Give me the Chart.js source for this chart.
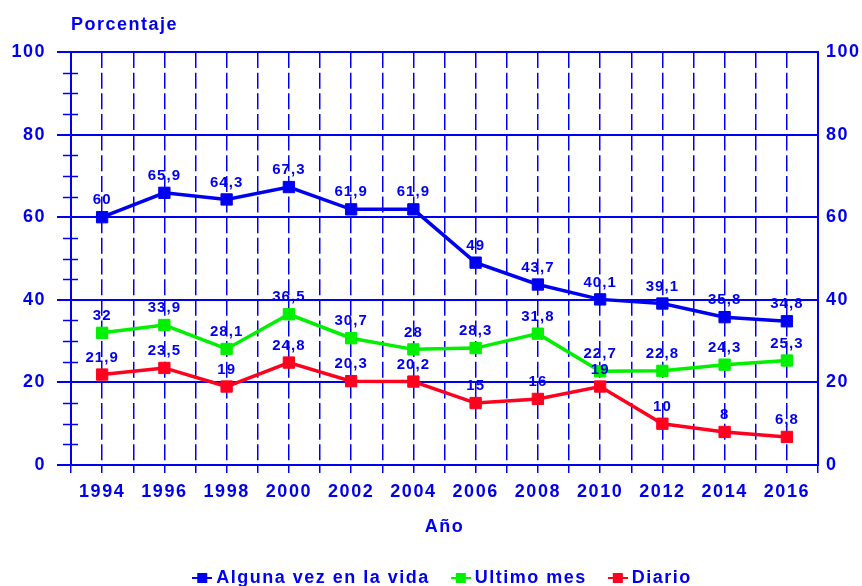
<!DOCTYPE html>
<html>
<head>
<meta charset="utf-8">
<script src="https://cdn.jsdelivr.net/npm/chart.js@4/dist/chart.umd.min.js"></script>
<style>
  html, body { margin: 0; padding: 0; background: #fff; }
</style>
</head>
<body>
<canvas id="chart" width="862" height="586"></canvas>
<script>
const YEARS = [1994, 1996, 1998, 2000, 2002, 2004, 2006, 2008, 2010, 2012, 2014, 2016];
const ALGUNA_VEZ = [60, 65.9, 64.3, 67.3, 61.9, 61.9, 49, 43.7, 40.1, 39.1, 35.8, 34.8];
const ULTIMO_MES = [32, 33.9, 28.1, 36.5, 30.7, 28, 28.3, 31.8, 22.7, 22.8, 24.3, 25.3];
const DIARIO = [21.9, 23.5, 19, 24.8, 20.3, 20.2, 15, 16, 19, 10, 8, 6.8];
const SERIES_NAMES = ['Alguna vez en la vida', 'Ultimo mes', 'Diario'];
const Y_MIN = 0, Y_MAX = 100, Y_STEP = 20, Y_MINOR_STEP = 5;

const BLUE = 'rgb(0, 0, 240)';
const GREEN = 'rgb(0, 240, 0)';
const RED = 'rgb(255, 0, 30)';
const FONT = 'Liberation Sans, Arial, sans-serif';

// little line+square marker for the legend
function make_marker(color) {
    const c = document.createElement('canvas');
    c.width = 20;
    c.height = 12;
    const g = c.getContext('2d');
    g.fillStyle = color;
    g.fillRect(0, 5, 20, 2);
    g.fillRect(5, 1, 10, 10);
    return c;
}
const MARKERS = [make_marker(BLUE), make_marker(GREEN), make_marker(RED)];

function to_points(values) {
    return values.map((v, i) => ({x: YEARS[i], y: v}));
}

const spacingPlugin = {
    id: 'spacing',
    beforeLayout(chart) { chart.ctx.letterSpacing = '1.5px'; },
    beforeDraw(chart) { chart.ctx.letterSpacing = '1.5px'; }
};

const minorTicksPlugin = {
    id: 'minorTicks',
    afterDraw(chart) {
        const scale = chart.scales.y;
        const ctx = chart.ctx;
        ctx.save();
        ctx.strokeStyle = BLUE;
        ctx.lineWidth = 1.5;
        for (let v = Y_MIN + Y_MINOR_STEP; v < Y_MAX; v += Y_MINOR_STEP) {
            if (v % Y_STEP == 0) continue;
            const y = Math.round(scale.getPixelForValue(v)) + 0.5;
            ctx.beginPath();
            ctx.moveTo(scale.right - 8, y);
            ctx.lineTo(scale.right + 7, y);
            ctx.stroke();
        }
        ctx.restore();
    }
};

const valueLabelsPlugin = {
    id: 'valueLabels',
    afterDatasetsDraw(chart) {
        const ctx = chart.ctx;
        ctx.save();
        ctx.letterSpacing = '1px';
        ctx.font = 'bold 15px ' + FONT;
        ctx.fillStyle = BLUE;
        ctx.textAlign = 'center';
        ctx.textBaseline = 'middle';
        chart.data.datasets.forEach((ds, i) => {
            const meta = chart.getDatasetMeta(i);
            meta.data.forEach((pt, j) => {
                const txt = String(ds.data[j].y).replace('.', ',');
                ctx.fillText(txt, pt.x, pt.y - 17);
            });
        });
        ctx.restore();
    }
};

const series = [ALGUNA_VEZ, ULTIMO_MES, DIARIO];
const colors = [BLUE, GREEN, RED];
const datasets = series.map((vals, i) => ({
    label: SERIES_NAMES[i],
    data: to_points(vals),
    borderColor: colors[i],
    backgroundColor: colors[i],
    borderWidth: 3.5,
    pointStyle: 'rect',
    pointRadius: 8,
    pointBorderWidth: 1,
    tension: 0
}));

new Chart(document.getElementById('chart'), {
    type: 'line',
    data: { datasets: datasets },
    options: {
        responsive: false,
        animation: false,
        layout: { padding: { top: 0, left: 0, right: 0, bottom: -11 } },
        plugins: {
            tooltip: { enabled: false },
            title: {
                display: true,
                text: 'Porcentaje',
                align: 'start',
                fullSize: false,
                color: BLUE,
                font: { family: FONT, size: 18, weight: 'bold' },
                padding: { top: 14, bottom: 16.4 }
            },
            legend: {
                position: 'bottom',
                fullSize: false,
                labels: {
                    usePointStyle: true,
                    pointStyleWidth: 10,
                    padding: 26,
                    color: BLUE,
                    font: { family: FONT, size: 18, weight: 'bold' },
                    generateLabels(chart) {
                        const items = Chart.defaults.plugins.legend.labels.generateLabels(chart);
                        items.forEach((it, i) => { it.pointStyle = MARKERS[i]; });
                        return items;
                    }
                }
            }
        },
        scales: {
            x: {
                type: 'linear',
                min: YEARS[0] - 1,
                max: YEARS[YEARS.length - 1] + 1,
                ticks: {
                    stepSize: 1,
                    autoSkip: false,
                    maxRotation: 0,
                    padding: 8,
                    color: BLUE,
                    font: { family: FONT, size: 18, weight: 'bold' },
                    callback: v => (v % 2 == 0 ? String(v) : '')
                },
                grid: { color: BLUE, lineWidth: 1.5, tickLength: 8 },
                border: { color: BLUE, width: 2, dash: [16, 4.65] },
                title: {
                    display: true,
                    text: 'Año',
                    color: BLUE,
                    font: { family: FONT, size: 18, weight: 'bold' },
                    padding: { top: 0, bottom: 5.2 }
                },
                afterFit: s => { s.height = 78; }
            },
            y: {
                position: 'left',
                min: Y_MIN,
                max: Y_MAX,
                ticks: {
                    stepSize: Y_STEP,
                    padding: 11,
                    color: BLUE,
                    font: { family: FONT, size: 18, weight: 'bold' }
                },
                grid: { color: BLUE, lineWidth: 2, tickLength: 14 },
                border: { color: BLUE, width: 2 },
                afterFit: s => { s.width = 71; }
            },
            y2: {
                position: 'right',
                min: Y_MIN,
                max: Y_MAX,
                ticks: {
                    stepSize: Y_STEP,
                    padding: 8,
                    color: BLUE,
                    font: { family: FONT, size: 18, weight: 'bold' }
                },
                grid: { display: false, drawTicks: false },
                border: { color: BLUE, width: 2 },
                afterFit: s => { s.width = 44; }
            }
        }
    },
    plugins: [spacingPlugin, minorTicksPlugin, valueLabelsPlugin]
});
</script>
</body>
</html>
